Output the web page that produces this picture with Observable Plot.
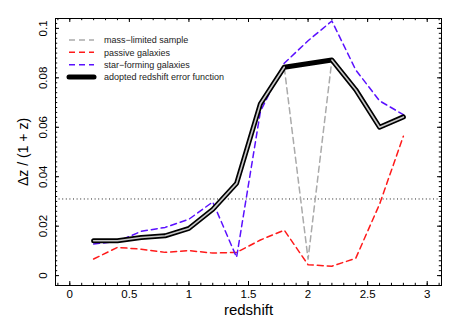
<!DOCTYPE html>
<html>
<head>
<meta charset="utf-8">
<script src="https://cdn.jsdelivr.net/npm/d3@7"></script>
<script src="https://cdn.jsdelivr.net/npm/@observablehq/plot@0.6"></script>
<style>
  html, body { margin: 0; padding: 0; background: #fff; }
  #chart svg { display: block; }
</style>
</head>
<body>
<div id="chart"></div>
<script>
// ---- data ----
const redshift = [0.2, 0.4, 0.6, 0.8, 1.0, 1.2, 1.4, 1.6, 1.8, 2.0, 2.2, 2.4, 2.6, 2.8];
const massLimited = [0.0141, 0.0141, 0.0154, 0.0161, 0.0191, 0.0268, 0.0373, 0.0695, 0.0843, 0.0067, 0.0872, 0.0752, 0.0600, 0.0642];
const passive     = [0.0067, 0.0114, 0.0107, 0.0094, 0.0101, 0.0091, 0.0094, 0.0144, 0.0184, 0.0044, 0.0038, 0.0070, 0.0289, 0.0564];
const starForming = [0.0128, 0.0138, 0.0179, 0.0195, 0.0228, 0.0298, 0.0074, 0.0664, 0.0859, 0.0950, 0.1030, 0.0832, 0.0707, 0.0651];
const adoptedZ    = [0.2, 0.4, 0.6, 0.8, 1.0, 1.2, 1.4, 1.6, 1.8, 2.2, 2.4, 2.6, 2.8];
const adopted     = [0.0141, 0.0141, 0.0154, 0.0161, 0.0191, 0.0268, 0.0373, 0.0695, 0.0843, 0.0872, 0.0752, 0.0600, 0.0642];
const threshold = 0.031;

const xTicks = [0, 0.5, 1, 1.5, 2, 2.5, 3];
const xTickLabels = ["0", "0.5", "1", "1.5", "2", "2.5", "3"];
const yTicks = [0, 0.02, 0.04, 0.06, 0.08, 0.1];
const yTickLabels = ["0", "0.02", "0.04", "0.06", "0.08", "0.1"];
const xMinor = d3.range(-1, 32).map(i => +(i * 0.1).toFixed(2));
const yMinor = d3.range(0, 52).map(i => +(i * 0.002).toFixed(4));

const seriesNames = ["mass\u2212limited sample", "passive galaxies", "star\u2212forming galaxies", "adopted redshift error function"];
const colors = {mass: "#aaaaaa", passive: "#ff1a1a", star: "#5a10ff", adopted: "#000000"};
const xLabel = "redshift";
const yLabel = "\u0394z / (1 + z)";

// ---- tables ----
const toRows = (xs, ys) => xs.map((x, i) => ({z: x, v: ys[i]}));
const massRows = toRows(redshift, massLimited);
const passiveRows = toRows(redshift, passive);
const starRows = toRows(redshift, starForming);
const adoptedRows = toRows(adoptedZ, adopted);

const W = 460, H = 322, mL = 55, mR = 19, mT = 18, mB = 37;
const fw = W - mL - mR, fh = H - mT - mB;
const majorLen = 4, minorLen = 2.2;

const dash = "6,4";

const svg = Plot.plot({
  width: W, height: H,
  marginLeft: mL, marginRight: mR, marginTop: mT, marginBottom: mB,
  style: {fontFamily: "'Liberation Sans', Arial, Helvetica, sans-serif", background: "#fff", color: "#000"},
  x: {domain: [-0.12, 3.12], axis: null},
  y: {domain: [-0.004, 0.104], axis: null},
  marks: [
    // threshold dotted line
    Plot.ruleY([threshold], {stroke: "#222", strokeWidth: 1, strokeDasharray: "1,2.6"}),
    // series
    Plot.line(massRows, {x: "z", y: "v", stroke: colors.mass, strokeWidth: 1.5, strokeDasharray: dash}),
    Plot.line(passiveRows, {x: "z", y: "v", stroke: colors.passive, strokeWidth: 1.5, strokeDasharray: dash}),
    Plot.line(starRows, {x: "z", y: "v", stroke: colors.star, strokeWidth: 1.5, strokeDasharray: dash}),
    Plot.line(adoptedRows, {x: "z", y: "v", stroke: colors.adopted, strokeWidth: 5, strokeLinejoin: "round", strokeLinecap: "round"}),
    Plot.line(adoptedRows, {x: "z", y: "v", z: d => d.z < 2 ? "a" : "b", stroke: "#c8c8c8", strokeWidth: 1.6, strokeLinejoin: "round"}),
    // inward ticks: bottom / top
    Plot.ruleX(xTicks, {x: d => d, insetTop: fh - majorLen, stroke: "#000"}),
    Plot.ruleX(xTicks, {x: d => d, insetBottom: fh - majorLen, stroke: "#000"}),
    Plot.ruleX(xMinor, {x: d => d, insetTop: fh - minorLen, stroke: "#000"}),
    Plot.ruleX(xMinor, {x: d => d, insetBottom: fh - minorLen, stroke: "#000"}),
    // inward ticks: left / right
    Plot.ruleY(yTicks, {y: d => d, insetRight: fw - majorLen, stroke: "#000"}),
    Plot.ruleY(yTicks, {y: d => d, insetLeft: fw - majorLen, stroke: "#000"}),
    Plot.ruleY(yMinor, {y: d => d, insetRight: fw - minorLen, stroke: "#000"}),
    Plot.ruleY(yMinor, {y: d => d, insetLeft: fw - minorLen, stroke: "#000"}),
    Plot.frame({stroke: "#000", strokeWidth: 1}),
    // tick labels
    Plot.text(xTicks, {x: d => d, text: (d, i) => xTickLabels[i], frameAnchor: "bottom", dy: 8.5, lineAnchor: "middle", fontSize: 11.5, fill: "#000"}),
    Plot.text(yTicks, {y: d => d, text: (d, i) => yTickLabels[i], frameAnchor: "left", dx: -12, rotate: -90, textAnchor: "middle", lineAnchor: "middle", fontSize: 11.5, fill: "#000"}),
    // axis titles
    Plot.text([xLabel], {text: d => d, frameAnchor: "bottom", dy: 25, lineAnchor: "middle", fontSize: 15, fill: "#000"}),
    Plot.text([yLabel], {text: d => d, frameAnchor: "left", dx: -32, rotate: -90, textAnchor: "middle", lineAnchor: "middle", fontSize: 14, fill: "#000"})
  ]
});

// ---- legend inside the plot (top-left) ----
const g = d3.select(svg).append("g")
  .attr("font-family", "'Liberation Sans', Arial, Helvetica, sans-serif")
  .attr("font-size", 9)
  .attr("text-anchor", "start");
const legendItems = [
  {label: seriesNames[0], stroke: colors.mass, width: 1.5, dashArr: dash},
  {label: seriesNames[1], stroke: colors.passive, width: 1.5, dashArr: dash},
  {label: seriesNames[2], stroke: colors.star, width: 1.5, dashArr: dash},
  {label: seriesNames[3], stroke: colors.adopted, width: 5, dashArr: null}
];
legendItems.forEach((it, i) => {
  const yy = mT + 22 + i * 12.35;
  const ln = g.append("line").attr("x1", 69).attr("x2", 94).attr("y1", yy).attr("y2", yy)
    .attr("stroke", it.stroke).attr("stroke-width", it.width).attr("stroke-linecap", it.dashArr ? "butt" : "round");
  if (it.dashArr) ln.attr("stroke-dasharray", it.dashArr);
  g.append("text").attr("x", 104).attr("y", yy).attr("dy", "0.35em").attr("text-anchor", "start").attr("fill", "#222").text(it.label);
});

document.getElementById("chart").appendChild(svg);
</script>
</body>
</html>
